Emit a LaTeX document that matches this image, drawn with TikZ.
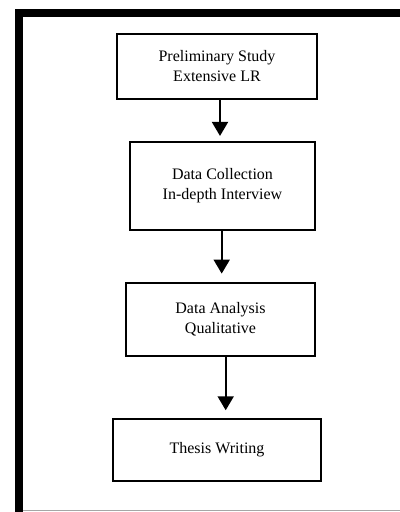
\documentclass[tikz,border=0pt]{standalone}
\usepackage{fontspec}
\setmainfont{Liberation Serif}
\usetikzlibrary{arrows.meta}
\begin{document}
\begin{tikzpicture}[x=0.75pt,y=-0.75pt,
  stagebox/.style={draw=black,line width=1.1pt,fill=white,align=center,
    font=\fontsize{12}{15}\selectfont,inner sep=0pt},
  flowarrow/.style={line width=1.5pt,-{Triangle[width=12pt,length=10.5pt]}},
  framebar/.style={line width=6pt,black}]
\useasboundingbox (0,0) rectangle (400,512);
% outer frame: heavy top and left rules, light bottom rule
\draw[gray!70,line width=0.8pt] (23,510.8) -- (400,510.8);
\draw[framebar] (19,512) -- (19,13) -- (400,13);
% stages
\node[stagebox,minimum width=150pt,minimum height=48.75pt] (b1) at (217,66.5)
  {Preliminary Study\\Extensive LR};
\node[stagebox,minimum width=138.75pt,minimum height=66pt] (b2) at (222.5,186)
  {Data Collection\\In-depth Interview};
\node[stagebox,minimum width=141.75pt,minimum height=54.75pt] (b3) at (220.5,319.5)
  {Data Analysis\\Qualitative};
\node[stagebox,minimum width=156pt,minimum height=46.5pt] (b4) at (217,450)
  {Thesis Writing};
% connectors
\coordinate (a1) at (220,0);
\coordinate (a2) at (221.7,0);
\coordinate (a3) at (225.7,0);
\draw[flowarrow,shorten >=4pt] (b1.south -| a1) -- (b2.north -| a1);
\draw[flowarrow,shorten >=6.5pt] (b2.south -| a2) -- (b3.north -| a2);
\draw[flowarrow,shorten >=6pt] (b3.south -| a3) -- (b4.north -| a3);
\end{tikzpicture}
\end{document}
